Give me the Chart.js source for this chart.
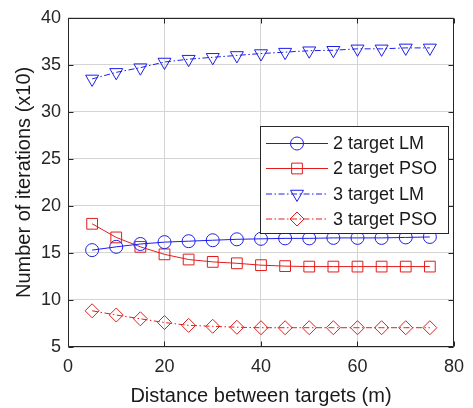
<!DOCTYPE html>
<html>
<head>
<meta charset="utf-8">
<script src="https://cdn.jsdelivr.net/npm/chart.js@4/dist/chart.umd.min.js"></script>
<style>
html,body{margin:0;padding:0;background:#fff;}
canvas{display:block;}
</style>
</head>
<body>
<canvas id="c" width="473" height="408"></canvas>
<script>
const distances = [5,10,15,20,25,30,35,40,45,50,55,60,65,70,75];
const lm2  = [15.3,15.65,15.95,16.15,16.25,16.35,16.45,16.5,16.55,16.55,16.6,16.6,16.6,16.65,16.7];
const pso2 = [18.1,16.65,15.65,14.85,14.3,14.05,13.9,13.7,13.6,13.55,13.55,13.55,13.55,13.55,13.55];
const lm3  = [33.5,34.2,34.7,35.3,35.6,35.8,36.0,36.2,36.35,36.5,36.55,36.7,36.7,36.8,36.8];
const pso3 = [8.85,8.4,8.0,7.6,7.3,7.2,7.1,7.05,7.05,7.05,7.05,7.05,7.05,7.05,7.05];
const seriesLabels = ['2 target LM','2 target PSO','3 target LM','3 target PSO'];
const xTicks = [0,20,40,60,80];
const yTicks = [5,10,15,20,25,30,35,40];

const BLUE = 'rgb(30,30,235)';
const RED = 'rgb(228,28,28)';
const DASHDOT = [6,2.5,1.5,2.5];
const FONT = '"Liberation Sans", Arial, Helvetica, sans-serif';
const AXIS = '#262626';

function pts(ys){ return distances.map((x,i)=>({x:x,y:ys[i]})); }

const styles = [
  {color:BLUE, dash:[], pointStyle:'circle', radius:6.5, rotation:0},
  {color:RED, dash:[], pointStyle:'rect', radius:7.6, rotation:0},
  {color:BLUE, dash:DASHDOT, pointStyle:'triangle', radius:7.5, rotation:180},
  {color:RED, dash:DASHDOT, pointStyle:'rectRot', radius:7, rotation:0}
];
const seriesData = [lm2, pso2, lm3, pso3];

const datasets = seriesData.map((d,i)=>({
  label: seriesLabels[i],
  data: pts(d),
  borderColor: styles[i].color,
  borderWidth: 1,
  borderDash: styles[i].dash,
  pointStyle: styles[i].pointStyle,
  pointRadius: styles[i].radius,
  pointRotation: styles[i].rotation,
  pointBorderColor: styles[i].color,
  pointBackgroundColor: 'rgba(255,255,255,0)',
  pointBorderWidth: 1,
  fill: false,
  tension: 0
}));

const framePlugin = {
  id: 'frame',
  afterDatasetsDraw(chart){
    const ctx = chart.ctx, a = chart.chartArea;
    const xs = chart.scales.x, ys = chart.scales.y;
    ctx.save();
    ctx.strokeStyle = AXIS;
    ctx.lineWidth = 1;
    ctx.setLineDash([]);
    ctx.beginPath();
    const L = Math.round(a.left)+0.5, R = Math.round(a.right)-0.5, T = Math.round(a.top)+0.5, B = Math.round(a.bottom)-0.5;
    ctx.rect(L, T, R-L, B-T);
    const tl = 5;
    xTicks.forEach(v=>{
      const px = Math.round(xs.getPixelForValue(v))+0.5;
      ctx.moveTo(px, B); ctx.lineTo(px, B-tl);
      ctx.moveTo(px, T); ctx.lineTo(px, T+tl);
    });
    yTicks.forEach(v=>{
      const py = Math.round(ys.getPixelForValue(v))+0.5;
      ctx.moveTo(L, py); ctx.lineTo(L+tl, py);
      ctx.moveTo(R, py); ctx.lineTo(R-tl, py);
    });
    ctx.stroke();

    // legend box
    const bx = 260.5, by = 126.5, bw = 188, bh = 107;
    ctx.fillStyle = '#fff';
    ctx.fillRect(bx, by, bw, bh);
    ctx.strokeStyle = AXIS;
    ctx.strokeRect(bx, by, bw, bh);
    const rowY = [143.5, 168.5, 194, 219];
    ctx.font = '18px ' + FONT;
    ctx.textBaseline = 'middle';
    ctx.textAlign = 'left';
    styles.forEach((s,i)=>{
      const y = rowY[i];
      ctx.strokeStyle = s.color;
      ctx.lineWidth = 1;
      ctx.setLineDash(s.dash);
      ctx.beginPath();
      ctx.moveTo(266, y); ctx.lineTo(328, y);
      ctx.stroke();
      ctx.setLineDash([]);
      ctx.fillStyle = 'rgba(255,255,255,0)';
      ctx.strokeStyle = s.color;
      Chart.helpers.drawPoint(ctx, {pointStyle:s.pointStyle, radius:s.radius, rotation:s.rotation, borderWidth:1}, 297, y);
      ctx.fillStyle = '#1a1a1a';
      ctx.fillText(seriesLabels[i], 333, y+1);
    });
    ctx.restore();
  }
};

new Chart(document.getElementById('c'), {
  type: 'line',
  data: { datasets: datasets },
  options: {
    responsive: false,
    animation: false,
    devicePixelRatio: 1,
    layout: { padding: { top: 14, right: 13, left: 0, bottom: 0 } },
    plugins: { legend: { display: false }, tooltip: { enabled: false } },
    scales: {
      x: {
        type: 'linear', min: 0, max: 80,
        afterBuildTicks(s){ s.ticks = xTicks.map(v=>({value:v})); },
        afterFit(s){ s.height = 61; },
        grid: { color: '#d4d4d4', lineWidth: 1, drawTicks: false },
        border: { display: false },
        ticks: { color: AXIS, font: { family: FONT, size: 18 }, padding: 9, maxRotation: 0 },
        title: { display: true, text: 'Distance between targets (m)', color: '#1a1a1a', font: { family: FONT, size: 20 }, padding: 0 }
      },
      y: {
        type: 'linear', min: 5, max: 40,
        afterBuildTicks(s){ s.ticks = yTicks.map(v=>({value:v})); },
        afterFit(s){ s.width = 68; },
        grid: { color: '#d4d4d4', lineWidth: 1, drawTicks: false },
        border: { display: false },
        ticks: { color: AXIS, font: { family: FONT, size: 18 }, padding: 7 },
        title: { display: true, text: 'Number of iterations (x10)', color: '#1a1a1a', font: { family: FONT, size: 20 }, padding: { top: 12, bottom: 0 } }
      }
    }
  },
  plugins: [framePlugin]
});
</script>
</body>
</html>
